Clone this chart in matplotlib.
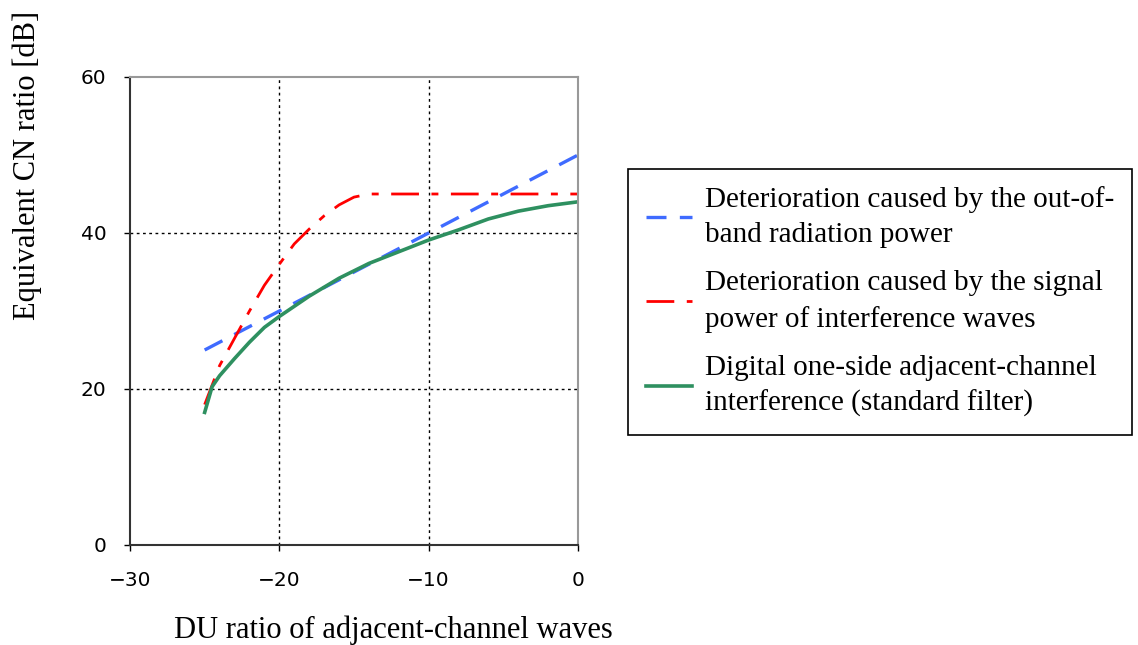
import matplotlib.pyplot as plt

plt.rcParams['font.family'] = ['DejaVu Sans']

# DU ratio [dB] and equivalent CN ratio [dB]
du_oob = [-25, -20, -15, -10, -5, 0]
cn_oob = [25, 30, 35, 40, 45, 50]

du_sig = [-25, -24, -23, -22, -21, -20, -19, -18, -17, -16, -15, -14, -10, -5, 0]
cn_sig = [18, 23, 26.5, 30, 33.3, 36, 38.6, 40.5, 42.2, 43.6, 44.6, 45, 45, 45, 45]

du_adj = [-25, -24.5, -24, -23, -22, -21, -20, -18, -16, -14, -12, -10, -8, -6, -4, -2, 0]
cn_adj = [17, 20.3, 21.7, 23.9, 26, 27.9, 29.3, 31.9, 34.2, 36.1, 37.6, 39.1, 40.4, 41.8, 42.8, 43.5, 44]

labels = ['Deterioration caused by the out-of-\nband radiation power',
          'Deterioration caused by the signal\npower of interference waves',
          'Digital one-side adjacent-channel\ninterference (standard filter)']

fig = plt.figure(figsize=(11.38, 6.45), dpi=100)
ax = fig.add_axes([130/1138, 100/645, 448/1138, 468/645])

l1, = ax.plot(du_oob, cn_oob, color='#3f6bff', lw=2.4, dashes=(6, 4))
l2, = ax.plot(du_sig, cn_sig, color='#ff0000', lw=2.0, dashes=(10, 4.5, 2.5, 4.5))
l3, = ax.plot(du_adj, cn_adj, color='#2e9060', lw=2.6)

for x in [-20, -10]:
    ax.axvline(x, color='black', lw=1, ls=(0, (2, 2.5)), zorder=0)
for y in [20, 40]:
    ax.axhline(y, color='black', lw=1, ls=(0, (2, 2.5)), zorder=0)

ax.set_xlim(-30, 0)
ax.set_ylim(0, 60)
ax.set_xticks([-30, -20, -10, 0])
ax.set_yticks([0, 20, 40, 60])
ax.tick_params(axis='both', direction='out', length=4, width=1, labelsize=14.5)
ax.tick_params(axis='y', pad=13)
ax.tick_params(axis='x', pad=15)

for s in ['left', 'bottom']:
    ax.spines[s].set_color('#333333')
    ax.spines[s].set_linewidth(1.5)
for s in ['top', 'right']:
    ax.spines[s].set_color('#999999')
    ax.spines[s].set_linewidth(1.5)

fig.text(393/1138, 1 - 630/645, 'DU ratio of adjacent-channel waves',
         family='Liberation Serif', fontsize=22, ha='center', va='center')
fig.text(27/1138, 1 - 165/645, 'Equivalent CN ratio [dB]',
         family='Liberation Serif', fontsize=22, ha='center', va='center', rotation=90)

leg = fig.legend([l1, l2, l3], labels, loc='upper left',
                 bbox_to_anchor=(628/1138, 1 - 169/645),
                 prop={'family': 'Liberation Serif', 'size': 21},
                 frameon=True, fancybox=False, framealpha=1, edgecolor='black',
                 handlelength=1.6, handletextpad=0.45, borderpad=0.6,
                 labelspacing=0.75, borderaxespad=0)
leg.get_frame().set_linewidth(1.2)
for t in leg.get_texts():
    t.set_linespacing(1.45)

fig.savefig('out.png', dpi=100)
